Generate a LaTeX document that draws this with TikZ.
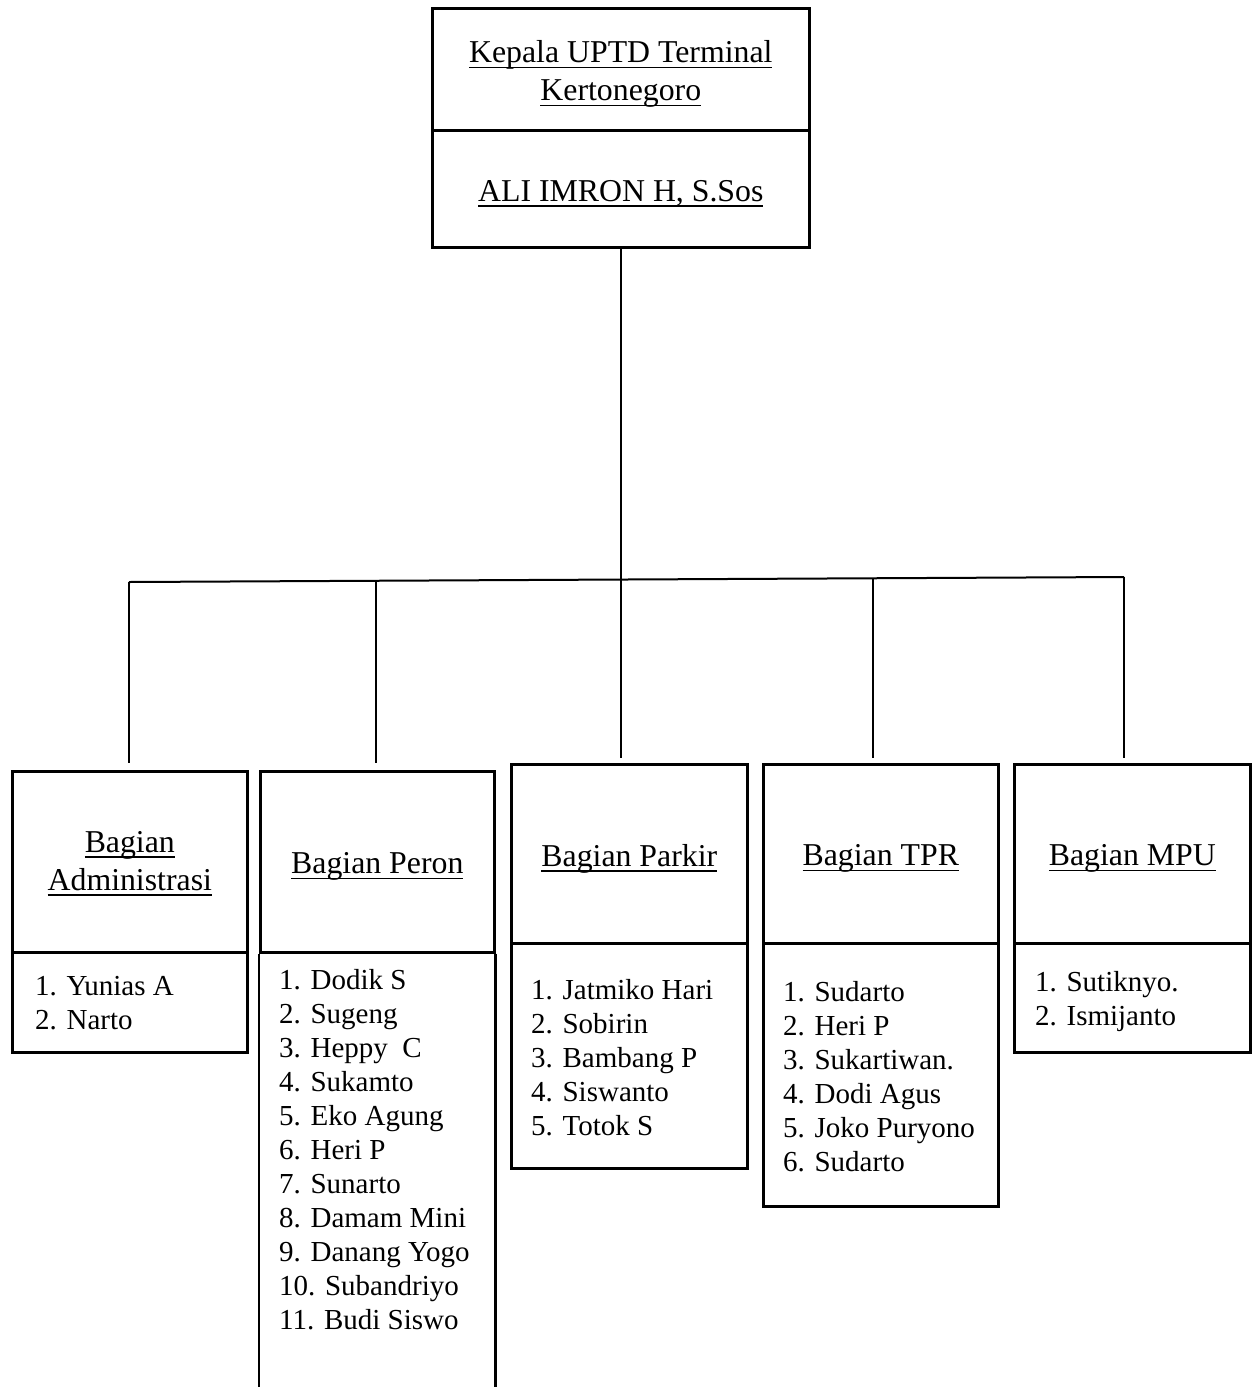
\documentclass[tikz,border=0pt]{standalone}
\usepackage{fontspec}
\setmainfont{Liberation Serif}
\usetikzlibrary{calc}
\newcommand\ulx[1]{\setbox0\hbox{#1}\rlap{\rule[-5.5pt]{\wd0}{1.8pt}}\box0}
\begin{document}
\begin{tikzpicture}[x=1pt,y=-1pt,
  ln/.style={line width=2pt},
  bx/.style={draw, line width=2.6pt, inner sep=0pt, anchor=north west},
  hd/.style={inner sep=0pt, align=center, yshift=-5pt,
    font=\fontsize{31.8}{38}\selectfont},
  ls/.style={inner sep=0pt, align=left, anchor=west,
    font=\fontsize{29}{34}\selectfont},
]
\useasboundingbox (0,0) rectangle (1253,1387);
\clip (0,0) rectangle (1253,1387);
% top box
\node[bx, minimum width=377pt, minimum height=122pt] (kt) at (431,7) {};
\node[bx, minimum width=377pt, minimum height=117pt] (kb) at (431,129) {};
\node[hd] (ktt) at (kt.center) {\ulx{Kepala UPTD Terminal}\\\ulx{Kertonegoro}};
\node[hd] (kbt) at (kb.center) {\ulx{ALI IMRON H, S.Sos}};
% Administrasi
\node[bx, minimum width=235pt, minimum height=181pt] (ah) at (11,770) {};
\node[bx, minimum width=235pt, minimum height=100pt] (al) at (11,951) {};
\node[hd, yshift=3pt] (aht) at (ah.center) {\ulx{Bagian}\\\ulx{Administrasi}};
\node[ls] (alt) at ([xshift=24pt,yshift=-1pt]al.west) {1. Yunias A\\2. Narto};
% Peron
\node[bx, minimum width=234pt, minimum height=181pt] (ph) at (259,770) {};
\draw[line width=2.6pt] (ph.south west) -- ++(0,450);
\draw[line width=2.6pt] (ph.south east) -- ++(0,450);
\node[hd] (pht) at (ph.center) {\ulx{Bagian Peron}};
\node[ls, anchor=north west] (plt) at (279,969)
  {1. Dodik S\\2. Sugeng\\3. Heppy~~C\\4. Sukamto\\5. Eko Agung\\6. Heri P\\7. Sunarto\\8. Damam Mini\\9. Danang Yogo\\10. Subandriyo\\11. Budi Siswo};
% Parkir
\node[bx, minimum width=236pt, minimum height=179pt] (rh) at (510,763) {};
\node[bx, minimum width=236pt, minimum height=225pt] (rl) at (510,942) {};
\node[hd] (rht) at (rh.center) {\ulx{Bagian Parkir}};
\node[ls] (rlt) at ([xshift=21pt,yshift=-2pt]rl.west)
  {1. Jatmiko Hari\\2. Sobirin\\3. Bambang P\\4. Siswanto\\5. Totok S};
% TPR
\node[bx, minimum width=235pt, minimum height=179pt] (th) at (762,763) {};
\node[bx, minimum width=235pt, minimum height=263pt] (tl) at (762,942) {};
\node[hd] (tht) at (th.center) {\ulx{Bagian TPR}};
\node[ls] (tlt) at ([xshift=21pt,yshift=-2pt]tl.west)
  {1. Sudarto\\2. Heri P\\3. Sukartiwan.\\4. Dodi Agus\\5. Joko Puryono\\6. Sudarto};
% MPU
\node[bx, minimum width=236pt, minimum height=179pt] (mh) at (1013,763) {};
\node[bx, minimum width=236pt, minimum height=109pt] (ml) at (1013,942) {};
\node[hd] (mht) at (mh.center) {\ulx{Bagian MPU}};
\node[ls] (mlt) at ([xshift=22pt,yshift=-4pt]ml.west) {1. Sutiknyo.\\2. Ismijanto};
% bus
\coordinate (b1) at (129,582);
\coordinate (b5) at (1124,577);
\coordinate (b2) at ($(b1)!0.248!(b5)$);
\coordinate (b3) at ($(b1)!0.4945!(b5)$);
\coordinate (b4) at ($(b1)!0.748!(b5)$);
\draw[ln] (kb.south) -- (kb.south |- b3);
\draw[ln] (b1) -- (b5);
\draw[ln, shorten >=7pt] (b1) -- (b1 |- ah.north);
\draw[ln, shorten >=7pt] (b2) -- (b2 |- ph.north);
\draw[ln, shorten >=5pt] (b3) -- (b3 |- rh.north);
\draw[ln, shorten >=5pt] (b4) -- (b4 |- th.north);
\draw[ln, shorten >=5pt] (b5) -- (b5 |- mh.north);
\end{tikzpicture}
\end{document}
